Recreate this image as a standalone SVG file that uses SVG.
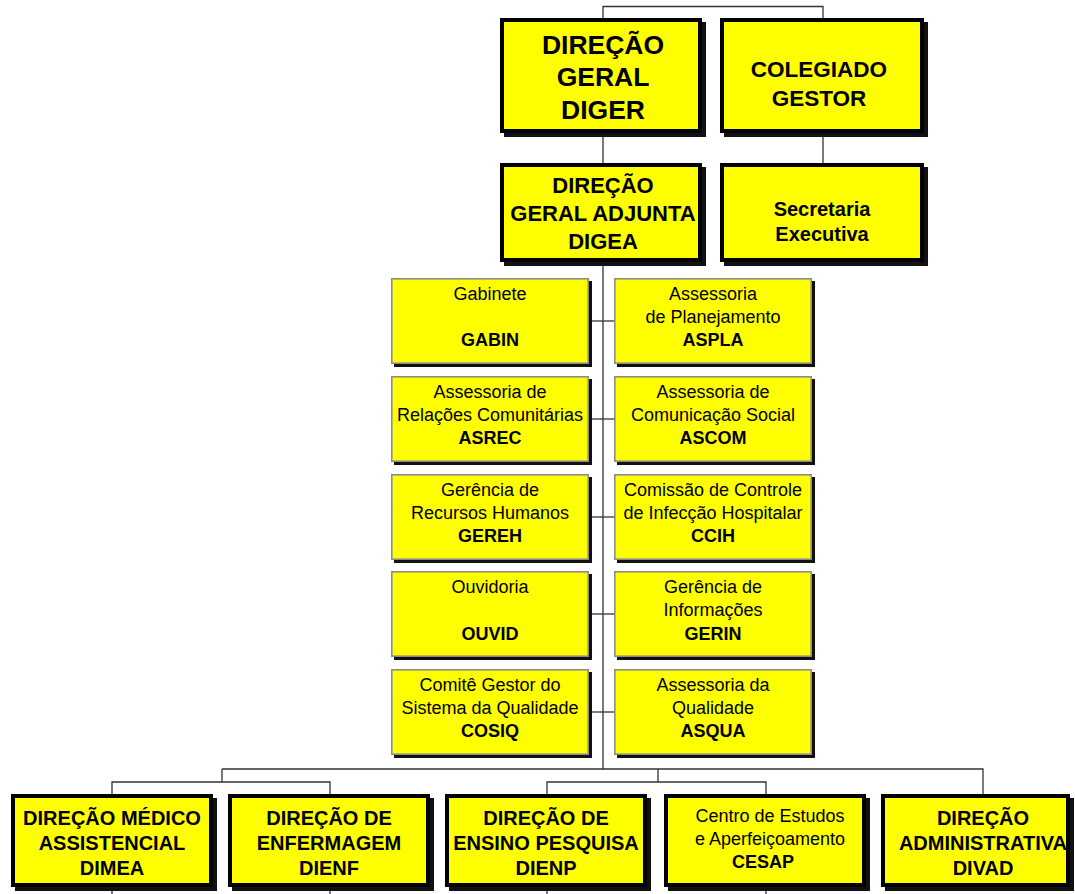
<svg xmlns="http://www.w3.org/2000/svg" width="1075" height="894" viewBox="0 0 1075 894">
  <style>
    .bg { fill: #ffffff; }
    .conn { fill: none; stroke: #333333; stroke-width: 1.3; }
    .shade { fill: #111111; }
    .major { fill: #ffff00; stroke: #000000; stroke-width: 4; }
    .minor { fill: #ffff00; stroke: #8c8c8c; stroke-width: 1.6; }
    text { font-family: "Liberation Sans", Arial, sans-serif; fill: #000000; text-anchor: middle; }
    .t26 { font-size: 26.5px; font-weight: bold; }
    .t22 { font-size: 22.5px; font-weight: bold; }
    .t22b { font-size: 22px; font-weight: bold; }
    .t19 { font-size: 20px; font-weight: bold; }
    .t20 { font-size: 20px; font-weight: bold; }
    .s { font-size: 18px; }
    .sb { font-size: 18px; font-weight: bold; }
  </style>

  <rect class="bg" x="0" y="0" width="1075" height="894"/>

  <!-- connectors -->
  <g id="connectors">
    <path class="conn" d="M603 18 V6.5 H823 V18"/>
    <path class="conn" d="M603 137 V163"/>
    <path class="conn" d="M823 137 V163"/>
    <path class="conn" d="M603 266 V769"/>
    <path class="conn" d="M592 321 H614"/>
    <path class="conn" d="M592 419 H614"/>
    <path class="conn" d="M592 517 H614"/>
    <path class="conn" d="M592 614 H614"/>
    <path class="conn" d="M592 712 H614"/>
    <path class="conn" d="M222 769 H983 V794"/>
    <path class="conn" d="M222 769 V782 M112 794 V782 H330 V794"/>
    <path class="conn" d="M658 769 V782 M547 794 V782 H766 V794"/>
    <path class="conn" d="M112 891 V894 M330 891 V894 M547 891 V894 M766 891 V894"/>
  </g>

  <!-- top level -->
  <g id="diger">
    <rect class="shade" x="504" y="22" width="202" height="115"/>
    <rect class="major" x="502" y="20" width="198" height="111"/>
    <text class="t26" x="603" y="54">DIREÇÃO</text>
    <text class="t26" x="603" y="86">GERAL</text>
    <text class="t26" x="603" y="119">DIGER</text>
  </g>
  <g id="colegiado">
    <rect class="shade" x="724" y="22" width="204" height="115"/>
    <rect class="major" x="722" y="20" width="200" height="111"/>
    <text class="t22" x="819" y="77">COLEGIADO</text>
    <text class="t22" x="819" y="106">GESTOR</text>
  </g>
  <g id="digea">
    <rect class="shade" x="504" y="167" width="202" height="99"/>
    <rect class="major" x="502" y="165" width="198" height="95"/>
    <text class="t22b" x="603" y="193">DIREÇÃO</text>
    <text class="t22b" x="603" y="221">GERAL ADJUNTA</text>
    <text class="t22b" x="603" y="249">DIGEA</text>
  </g>
  <g id="secex">
    <rect class="shade" x="724" y="167" width="204" height="99"/>
    <rect class="major" x="722" y="165" width="200" height="95"/>
    <text class="t19" x="822" y="216">Secretaria</text>
    <text class="t19" x="822" y="241">Executiva</text>
  </g>

  <!-- advisory units, left column -->
  <g id="gabin">
    <rect class="shade" x="394" y="281" width="198" height="86"/>
    <rect class="minor" x="391.8" y="278.8" width="196.4" height="84.4"/>
    <text class="s" x="490" y="300">Gabinete</text>
    <text class="sb" x="490" y="346">GABIN</text>
  </g>
  <g id="asrec">
    <rect class="shade" x="394" y="379" width="198" height="86"/>
    <rect class="minor" x="391.8" y="376.8" width="196.4" height="84.4"/>
    <text class="s" x="490" y="398">Assessoria de</text>
    <text class="s" x="490" y="421">Relações Comunitárias</text>
    <text class="sb" x="490" y="444">ASREC</text>
  </g>
  <g id="gereh">
    <rect class="shade" x="394" y="477" width="198" height="86"/>
    <rect class="minor" x="391.8" y="474.8" width="196.4" height="84.4"/>
    <text class="s" x="490" y="496">Gerência de</text>
    <text class="s" x="490" y="519">Recursos Humanos</text>
    <text class="sb" x="490" y="542">GEREH</text>
  </g>
  <g id="ouvid">
    <rect class="shade" x="394" y="574" width="198" height="86"/>
    <rect class="minor" x="391.8" y="571.8" width="196.4" height="84.4"/>
    <text class="s" x="490" y="593">Ouvidoria</text>
    <text class="sb" x="490" y="640">OUVID</text>
  </g>
  <g id="cosiq">
    <rect class="shade" x="394" y="672" width="198" height="86"/>
    <rect class="minor" x="391.8" y="669.8" width="196.4" height="84.4"/>
    <text class="s" x="490" y="691">Comitê Gestor do</text>
    <text class="s" x="490" y="714">Sistema da Qualidade</text>
    <text class="sb" x="490" y="737">COSIQ</text>
  </g>

  <!-- advisory units, right column -->
  <g id="aspla">
    <rect class="shade" x="617" y="281" width="198" height="86"/>
    <rect class="minor" x="614.8" y="278.8" width="196.4" height="84.4"/>
    <text class="s" x="713" y="300">Assessoria</text>
    <text class="s" x="713" y="323">de Planejamento</text>
    <text class="sb" x="713" y="346">ASPLA</text>
  </g>
  <g id="ascom">
    <rect class="shade" x="617" y="379" width="198" height="86"/>
    <rect class="minor" x="614.8" y="376.8" width="196.4" height="84.4"/>
    <text class="s" x="713" y="398">Assessoria de</text>
    <text class="s" x="713" y="421">Comunicação Social</text>
    <text class="sb" x="713" y="444">ASCOM</text>
  </g>
  <g id="ccih">
    <rect class="shade" x="617" y="477" width="198" height="86"/>
    <rect class="minor" x="614.8" y="474.8" width="196.4" height="84.4"/>
    <text class="s" x="713" y="496">Comissão de Controle</text>
    <text class="s" x="713" y="519">de Infecção Hospitalar</text>
    <text class="sb" x="713" y="542">CCIH</text>
  </g>
  <g id="gerin">
    <rect class="shade" x="617" y="574" width="198" height="86"/>
    <rect class="minor" x="614.8" y="571.8" width="196.4" height="84.4"/>
    <text class="s" x="713" y="593">Gerência de</text>
    <text class="s" x="713" y="616">Informações</text>
    <text class="sb" x="713" y="640">GERIN</text>
  </g>
  <g id="asqua">
    <rect class="shade" x="617" y="672" width="198" height="86"/>
    <rect class="minor" x="614.8" y="669.8" width="196.4" height="84.4"/>
    <text class="s" x="713" y="691">Assessoria da</text>
    <text class="s" x="713" y="714">Qualidade</text>
    <text class="sb" x="713" y="737">ASQUA</text>
  </g>

  <!-- directorates -->
  <g id="dimea">
    <rect class="shade" x="15" y="798" width="202" height="93"/>
    <rect class="major" x="13" y="796" width="198" height="89"/>
    <text class="t20" x="112" y="825">DIREÇÃO MÉDICO</text>
    <text class="t20" x="112" y="850">ASSISTENCIAL</text>
    <text class="t20" x="112" y="875">DIMEA</text>
  </g>
  <g id="dienf">
    <rect class="shade" x="232" y="798" width="202" height="93"/>
    <rect class="major" x="230" y="796" width="198" height="89"/>
    <text class="t20" x="329" y="825">DIREÇÃO DE</text>
    <text class="t20" x="329" y="850">ENFERMAGEM</text>
    <text class="t20" x="329" y="875">DIENF</text>
  </g>
  <g id="dienp">
    <rect class="shade" x="449" y="798" width="202" height="93"/>
    <rect class="major" x="447" y="796" width="198" height="89"/>
    <text class="t20" x="546" y="825">DIREÇÃO DE</text>
    <text class="t20" x="546" y="850">ENSINO PESQUISA</text>
    <text class="t20" x="546" y="875">DIENP</text>
  </g>
  <g id="cesap">
    <rect class="shade" x="668" y="798" width="202" height="93"/>
    <rect class="major" x="666" y="796" width="198" height="89"/>
    <text class="s" x="770" y="822">Centro de Estudos</text>
    <text class="s" x="770" y="845">e Aperfeiçoamento</text>
    <text class="sb" x="763" y="868">CESAP</text>
  </g>
  <g id="divad">
    <rect class="shade" x="885" y="798" width="189" height="93"/>
    <rect class="major" x="883" y="796" width="185" height="89"/>
    <text class="t20" x="983" y="825">DIREÇÃO</text>
    <text class="t20" x="983" y="850">ADMINISTRATIVA</text>
    <text class="t20" x="983" y="875">DIVAD</text>
  </g>
</svg>
